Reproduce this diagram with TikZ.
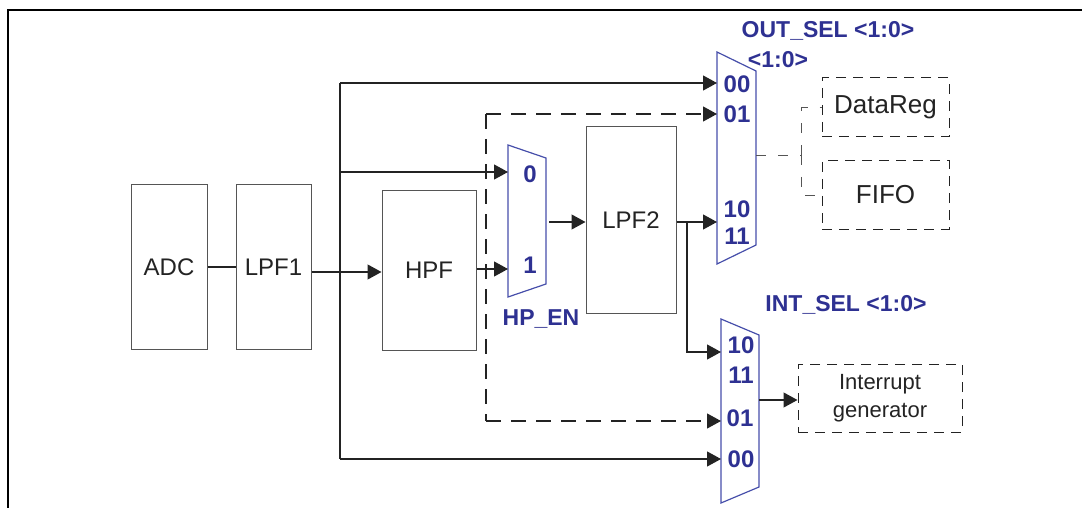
\documentclass[tikz,border=0pt]{standalone}
\usepackage{fontspec}
\setmainfont{Liberation Sans}
\usetikzlibrary{arrows.meta}
\usepackage{xcolor}
\definecolor{muxblue}{RGB}{46,49,146}
\definecolor{muxline}{RGB}{70,78,170}
\definecolor{boxgray}{RGB}{85,85,85}
\definecolor{txtgray}{RGB}{35,35,35}

\begin{document}
\begin{tikzpicture}[x=0.5pt, y=-0.5pt,
    blk/.style={draw=boxgray, line width=0.5pt, inner sep=0pt, text=txtgray, font=\fontsize{12}{13}\selectfont},
    dbox/.style={draw=txtgray, line width=0.5pt, dash pattern=on 5pt off 3.5pt, inner sep=0pt, text=txtgray},
    sel/.style={text=muxblue, font=\bfseries\fontsize{11.5}{13}\selectfont, inner sep=0pt},
    pin/.style={text=muxblue, font=\bfseries\fontsize{12}{13}\selectfont, inner sep=0pt},
    wire/.style={draw=txtgray, line width=0.6pt},
    arr/.style={wire, -{Triangle[length=7pt, width=7.5pt]}},
    darr/.style={arr, dash pattern=on 7.5pt off 5pt},
    dwire/.style={draw=boxgray, line width=0.4pt, dash pattern=on 5pt off 6pt}]
    \useasboundingbox (0,0) rectangle (1082,508);
    % frame
    \draw[line width=1.1pt] (8,508) -- (8,10) -- (1082,10);
    % filter chain
    \node[blk, minimum width=38pt, minimum height=82pt] (adc) at (169,267) {ADC};
    \node[blk, minimum width=37.5pt, minimum height=82pt] (lpf1) at (273.5,267) {LPF1};
    \node[blk, minimum width=47pt, minimum height=80pt] (hpf) at (429,270) {HPF};
    \node[blk, minimum width=45pt, minimum height=93pt] (lpf2) at (631,220) {LPF2};
    \node[dbox, minimum width=63.5pt, minimum height=29.5pt, font=\fontsize{13}{15}\selectfont] (datareg) at (885.5,107.5) {DataReg};
    \node[dbox, minimum width=63.5pt, minimum height=34pt, font=\fontsize{13}{15}\selectfont] (fifo) at (885.5,195) {FIFO};
    \node[dbox, minimum width=82pt, minimum height=34pt, align=center, font=\fontsize{11}{14}\selectfont] (intgen) at (880,398) {Interrupt\\generator};
    % muxes
    \draw[muxline, line width=0.6pt] (508,145) -- (546,158) -- (546,284) -- (508,297) -- cycle;
    \draw[muxline, line width=0.6pt] (717,52) -- (756,71) -- (756,245) -- (717,264) -- cycle;
    \draw[muxline, line width=0.6pt] (721,319) -- (759,335) -- (759,487) -- (721,503) -- cycle;
    \node[pin] (h0) at (530,174) {0};
    \node[pin] (h1) at (530,265) {1};
    \node[sel] (hpen) at (541,319) {HP\_EN};
    \node[pin] (o00) at (737,84) {00};
    \node[pin] (o01) at (737,114) {01};
    \node[pin] (o10) at (737,209) {10};
    \node[pin] (o11) at (737,236) {11};
    \node[sel] (outsel) at (828,31) {OUT\_SEL <1:0>};
    \node[sel] (outsel2) at (778,60) {<1:0>};
    \node[pin] (i10) at (741,345) {10};
    \node[pin] (i11) at (741,375) {11};
    \node[pin] (i01) at (740,418) {01};
    \node[pin] (i00) at (741,459) {00};
    \node[sel] (intsel) at (846,305) {INT\_SEL <1:0>};
    % mux ports
    \coordinate (hm0) at (508,172);
    \coordinate (hm1) at (508,269);
    \coordinate (hmout) at (549,222);
    \coordinate (om00) at (717,83);
    \coordinate (om01) at (717,114);
    \coordinate (om10) at (717,222);
    \coordinate (omout) at (756,155);
    \coordinate (im10) at (721,352);
    \coordinate (im01) at (721,421);
    \coordinate (im00) at (721,459);
    \coordinate (imout) at (759,400);
    % junctions
    \coordinate (jl) at (340,272);
    \coordinate (jtop) at (340,83);
    \coordinate (jbot) at (340,459);
    \coordinate (jtap) at (340,172);
    \coordinate (dtop) at (486,114);
    \coordinate (dbot) at (486,421);
    \coordinate (jl2) at (687,222);
    \coordinate (jo) at (801,155);
    % connections
    \draw[wire] (adc) -- (lpf1);
    \draw[arr] (lpf1.east |- jl) -- (hpf.west |- jl);
    \draw[wire] (jtop) -- (jbot);
    \draw[arr] (jtop) -- (om00);
    \draw[arr] (jtap) -- (hm0);
    \draw[arr] (jbot) -- (im00);
    \draw[arr] (hpf.east |- hm1) -- (hm1);
    \draw[darr] (dtop) -- (om01);
    \draw[darr] (dbot) -- (im01);
    \draw[wire, dash pattern=on 7.5pt off 5pt] (dtop) -- (dbot);
    \draw[arr] (hmout) -- (lpf2.west |- hmout);
    \draw[arr] (lpf2.east |- jl2) -- (om10);
    \draw[arr] (jl2) |- (im10);
    \draw[dwire] (omout) -- (jo);
    \draw[dwire] (jo) |- (datareg.west);
    \draw[dwire] (jo) |- (fifo.west);
    \draw[arr] (imout) -- (intgen.west |- imout);
\end{tikzpicture}
\end{document}
